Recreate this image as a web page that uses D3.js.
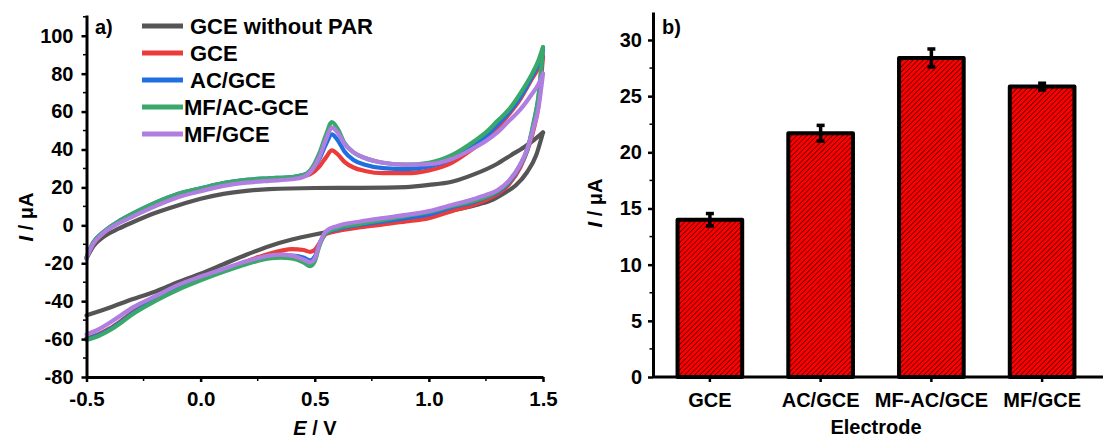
<!DOCTYPE html>
<html>
<head>
<meta charset="utf-8">
<script src="https://cdn.jsdelivr.net/npm/d3@7"></script>
<style>
  body { margin: 0; background: #fff; }
  text { font-family: "Liberation Sans", Arial, sans-serif; font-weight: bold; fill: #000; }
</style>
</head>
<body>
<div id="vis"></div>
<script>
// ---- data: cyclic voltammograms, [E (V), I (uA)], each branch in ascending E ----
const greyFwd = [[-0.5,-17.5],[-0.47,-11],[-0.43,-6.5],[-0.36,-1.8],[-0.3,1.5],[-0.2,6.5],[-0.1,10.5],[0,14],[0.1,16.6],[0.2,18.2],[0.3,19.1],[0.5,19.7],[0.7,19.8],[0.9,20.2],[1.0,21.3],[1.1,23],[1.2,27],[1.3,32.5],[1.36,37],[1.42,41.5],[1.46,45],[1.5,49]]
const greyRev = [[-0.5,-47.5],[-0.4,-43.5],[-0.3,-39],[-0.2,-35],[-0.1,-30],[0,-25.5],[0.1,-20.5],[0.2,-15.5],[0.3,-11],[0.4,-7.5],[0.5,-4.8],[0.6,-2.5],[0.7,-0.5],[0.8,1.5],[0.9,3.5],[1.0,5.5],[1.1,7.8],[1.2,10.5],[1.27,13],[1.33,17],[1.38,21],[1.43,28],[1.47,37],[1.5,49]]

const redFwd = [[-0.5,-17],[-0.47,-9.5],[-0.43,-4.5],[-0.36,1.5],[-0.3,5.5],[-0.2,11.3],[-0.1,16],[0,19],[0.1,21.8],[0.2,23.5],[0.3,24.3],[0.4,25],[0.45,26],[0.48,27],[0.52,31],[0.55,36],[0.575,39.5],[0.6,37.5],[0.63,33.5],[0.67,30.5],[0.72,28.7],[0.8,27.5],[0.9,27.5],[1.0,29],[1.1,33],[1.2,41],[1.25,45.5],[1.3,51.5],[1.35,58.5],[1.4,66.5],[1.45,77],[1.48,83],[1.5,89]]
const redRev = [[-0.5,-59.5],[-0.45,-57.5],[-0.4,-54.5],[-0.35,-50.5],[-0.3,-46],[-0.2,-39],[-0.1,-33],[0,-28.5],[0.1,-24],[0.2,-19],[0.3,-15],[0.35,-13.5],[0.4,-12.5],[0.45,-13],[0.48,-14],[0.5,-13],[0.52,-9.5],[0.55,-4.5],[0.6,-3],[0.7,-1],[0.8,0.5],[0.9,2],[1.0,3.8],[1.1,7.5],[1.2,11],[1.25,13.5],[1.3,16.5],[1.35,21.5],[1.4,30.5],[1.43,39],[1.46,51],[1.48,63],[1.5,89]]

const blueFwd = [[-0.5,-17],[-0.47,-9],[-0.43,-4],[-0.36,2],[-0.3,6],[-0.2,11.8],[-0.1,16.5],[0,19.5],[0.1,22.3],[0.2,24],[0.3,24.8],[0.4,25.5],[0.45,26.5],[0.48,28.5],[0.52,35],[0.55,43],[0.575,48],[0.6,45],[0.63,39],[0.67,34.5],[0.72,32],[0.8,30.2],[0.9,29.7],[1.0,31],[1.1,35],[1.2,42.5],[1.25,47],[1.3,53],[1.35,59.5],[1.4,67.5],[1.45,78],[1.48,85.5],[1.5,93]]
const blueRev = [[-0.5,-60],[-0.45,-58],[-0.4,-55],[-0.35,-51],[-0.3,-46.5],[-0.2,-39.5],[-0.1,-33.5],[0,-28.5],[0.1,-24],[0.2,-20],[0.3,-17],[0.35,-16],[0.4,-16],[0.45,-17],[0.48,-18.5],[0.5,-16.5],[0.52,-10],[0.55,-4],[0.6,-2],[0.7,0.3],[0.8,2],[0.9,3.8],[1.0,5.8],[1.1,9.5],[1.2,12.5],[1.25,14.8],[1.3,17.5],[1.35,22.5],[1.4,31.5],[1.43,39.5],[1.46,54],[1.48,67],[1.5,93]]

const greenFwd = [[-0.5,-17],[-0.47,-9],[-0.43,-4],[-0.36,2],[-0.3,6],[-0.2,11.8],[-0.1,16.5],[0,19.5],[0.1,22.3],[0.2,24],[0.3,24.8],[0.4,25.5],[0.45,26.5],[0.48,29],[0.52,38],[0.55,48],[0.575,54.5],[0.6,51],[0.63,43.5],[0.67,38.5],[0.72,35.5],[0.8,33],[0.9,32],[1.0,33],[1.1,37],[1.2,44.5],[1.25,49],[1.3,55],[1.35,61],[1.4,69.5],[1.45,79.5],[1.48,87],[1.5,94]]
const greenRev = [[-0.5,-60.5],[-0.45,-58.5],[-0.4,-55.5],[-0.35,-51.5],[-0.3,-47],[-0.2,-40],[-0.1,-34],[0,-29],[0.1,-24.5],[0.2,-20.5],[0.3,-17.5],[0.35,-17],[0.4,-17.5],[0.45,-19.5],[0.48,-21.5],[0.5,-19],[0.52,-11],[0.55,-4],[0.6,-1.5],[0.7,0.8],[0.8,2.8],[0.9,5],[1.0,7],[1.1,10.2],[1.2,13],[1.25,15],[1.3,18],[1.35,23],[1.4,32],[1.43,39.5],[1.46,55],[1.48,68],[1.5,94]]

const purpleFwd = [[-0.5,-17],[-0.47,-9.7],[-0.43,-4.5],[-0.36,1],[-0.3,4.5],[-0.2,10],[-0.1,14.8],[0,18],[0.1,20.8],[0.2,22.5],[0.3,23.5],[0.4,24.3],[0.45,25.5],[0.48,28],[0.52,36],[0.55,45.5],[0.575,51.5],[0.6,49],[0.63,43],[0.67,38.5],[0.72,35.5],[0.8,33],[0.9,32],[1.0,32.3],[1.1,35],[1.2,41],[1.25,44.5],[1.3,49],[1.35,55],[1.4,61],[1.45,69],[1.48,74.5],[1.5,80]]
const purpleRev = [[-0.5,-57.5],[-0.45,-55],[-0.4,-51.5],[-0.35,-47.5],[-0.3,-43.5],[-0.2,-37.5],[-0.1,-31.5],[0,-27],[0.1,-23],[0.2,-19],[0.3,-16],[0.35,-15.5],[0.4,-16],[0.45,-18],[0.48,-19.5],[0.5,-17.5],[0.52,-10],[0.55,-3],[0.6,-0.3],[0.7,2],[0.8,3.8],[0.9,5.5],[1.0,7.5],[1.1,10.7],[1.2,14],[1.25,16],[1.3,18.5],[1.35,23.5],[1.4,32],[1.43,40],[1.46,52],[1.48,62],[1.5,80]]

const cvNames = ['GCE without PAR', 'GCE', 'AC/GCE', 'MF/AC-GCE', 'MF/GCE']
const cvColors = ['#555555', '#ec3b3b', '#1f6fe0', '#3ba86b', '#b07ee0']
const cvData = [[greyFwd, greyRev], [redFwd, redRev], [blueFwd, blueRev], [greenFwd, greenRev], [purpleFwd, purpleRev]]

const xTicksA = [-0.5, 0.0, 0.5, 1.0, 1.5]
const yTicksA = [-80, -60, -40, -20, 0, 20, 40, 60, 80, 100]

// ---- data: peak current bars ----
const electrodes = ['GCE', 'AC/GCE', 'MF-AC/GCE', 'MF/GCE']
const peakCurrent = [14.0, 21.7, 28.4, 25.85]
const peakError = [0.55, 0.7, 0.8, 0.3]
const yTicksB = [0, 5, 10, 15, 20, 25, 30]

const svg = d3.select('#vis').append('svg')
    .attr('width', 1103)
    .attr('height', 439)

// plain hyphen instead of d3's unicode minus, like the original
const hy = f => d => f(d).replace('\u2212', '-')

function styleAxis(g, fontSize) {
    g.select('.domain').attr('stroke', '#000').attr('stroke-width', 3)
    g.selectAll('.tick line').attr('stroke', '#000').attr('stroke-width', 2.5)
    g.selectAll('.tick text')
        .style('font-family', '"Liberation Sans", Arial, sans-serif')
        .style('font-weight', 'bold')
        .style('font-size', fontSize + 'px')
        .attr('fill', '#000')
}

// ================= panel a) =================
const xA = d3.scaleLinear().domain([-0.5, 1.5]).range([86.5, 543])
const yA = d3.scaleLinear().domain([-80, 111]).range([377, 14.9])

const gA = svg.append('g')
// minor ticks
gA.selectAll('.minx').data(d3.range(-0.25, 1.5, 0.5)).join('line')
    .attr('x1', d => xA(d)).attr('x2', d => xA(d))
    .attr('y1', 377).attr('y2', 381)
    .attr('stroke', '#000').attr('stroke-width', 1.5)
gA.selectAll('.miny').data(d3.range(-70, 111, 20)).join('line')
    .attr('x1', 86.5).attr('x2', 83)
    .attr('y1', d => yA(d)).attr('y2', d => yA(d))
    .attr('stroke', '#000').attr('stroke-width', 1.5)

const line = d3.line()
    .x(d => xA(d[0]))
    .y(d => yA(d[1]))
    .curve(d3.curveMonotoneX)

cvData.forEach((branches, i) => {
    branches.forEach(b => {
        gA.append('path')
            .attr('d', line(b))
            .attr('fill', 'none')
            .attr('stroke', cvColors[i])
            .attr('stroke-width', 4.2)
            .attr('stroke-linejoin', 'round')
            .attr('stroke-linecap', 'round')
    })
})

gA.append('g')
    .attr('transform', 'translate(0,377)')
    .call(d3.axisBottom(xA).tickValues(xTicksA).tickFormat(hy(d3.format('.1f'))).tickSize(5).tickSizeOuter(0).tickPadding(9))
    .call(g => styleAxis(g, 20.5))

gA.append('g')
    .attr('transform', 'translate(86.5,0)')
    .call(d3.axisLeft(yA).tickValues(yTicksA).tickFormat(hy(d3.format('d'))).tickSize(5).tickSizeOuter(0).tickPadding(8))
    .call(g => styleAxis(g, 20))

gA.append('text').attr('x', 95).attr('y', 34).style('font-size', '20px').text('a)')

// axis titles
const tA = gA.append('text').attr('x', 315).attr('y', 435).attr('text-anchor', 'middle').style('font-size', '20px')
tA.append('tspan').style('font-style', 'italic').text('E')
tA.append('tspan').text(' / V')
const yLabA = gA.append('text').attr('transform', 'translate(33,217) rotate(-90)').attr('text-anchor', 'middle').style('font-size', '20px')
yLabA.append('tspan').style('font-style', 'italic').text('I')
yLabA.append('tspan').text(' / μA')

// legend
const legRows = [26, 53, 80, 107, 134]
const legTextX = [190, 190, 190, 184, 184]
cvNames.forEach((n, i) => {
    gA.append('line')
        .attr('x1', 142).attr('x2', 183)
        .attr('y1', legRows[i]).attr('y2', legRows[i])
        .attr('stroke', cvColors[i]).attr('stroke-width', 5)
    gA.append('text')
        .attr('x', legTextX[i]).attr('y', legRows[i] + 7.5)
        .style('font-size', '22px')
        .text(n)
})

// ================= panel b) =================
const xB = d3.scaleBand().domain(electrodes).range([654.5, 1097.5]).paddingInner(0.38).paddingOuter(0.19)
const yB = d3.scaleLinear().domain([0, 32.5]).range([377, 11.9])

const defs = svg.append('defs')
const pat = defs.append('pattern')
    .attr('id', 'hatch')
    .attr('patternUnits', 'userSpaceOnUse')
    .attr('width', 3.6).attr('height', 3.6)
    .attr('patternTransform', 'rotate(45)')
pat.append('rect').attr('width', 3.6).attr('height', 3.6).attr('fill', '#ff0000')
pat.append('line').attr('x1', 0).attr('x2', 0).attr('y1', 0).attr('y2', 3.6)
    .attr('stroke', '#000').attr('stroke-width', 1.1)

const gB = svg.append('g')

gB.selectAll('.minyb').data(d3.range(2.5, 32.5, 5)).join('line')
    .attr('x1', 653).attr('x2', 649.5)
    .attr('y1', d => yB(d)).attr('y2', d => yB(d))
    .attr('stroke', '#000').attr('stroke-width', 1.5)

gB.selectAll('.bar').data(electrodes).join('rect')
    .attr('x', d => xB(d) + 2)
    .attr('width', xB.bandwidth() - 4)
    .attr('y', (d, i) => yB(peakCurrent[i]))
    .attr('height', (d, i) => yB(0) - yB(peakCurrent[i]))
    .attr('fill', 'url(#hatch)')
    .attr('stroke', '#000')
    .attr('stroke-width', 4)
    .attr('stroke-linejoin', 'round')

// error bars
electrodes.forEach((d, i) => {
    const cx = xB(d) + xB.bandwidth() / 2
    const lo = yB(peakCurrent[i] - peakError[i]), hi = yB(peakCurrent[i] + peakError[i])
    gB.append('line').attr('x1', cx).attr('x2', cx).attr('y1', lo).attr('y2', hi)
        .attr('stroke', '#000').attr('stroke-width', 3.5)
    ;[lo, hi].forEach(yv => {
        gB.append('line').attr('x1', cx - 4).attr('x2', cx + 4).attr('y1', yv).attr('y2', yv)
            .attr('stroke', '#000').attr('stroke-width', 3.5)
    })
})

gB.append('g')
    .attr('transform', 'translate(0,377)')
    .call(d3.axisBottom(xB).tickSize(5).tickSizeOuter(0).tickPadding(11))
    .call(g => styleAxis(g, 20))
    .call(g => g.select('.domain').attr('d', 'M653,0H1103'))

gB.append('g')
    .attr('transform', 'translate(653,0)')
    .call(d3.axisLeft(yB).tickValues(yTicksB).tickSize(5).tickSizeOuter(0).tickPadding(6))
    .call(g => styleAxis(g, 20))

gB.append('text').attr('x', 662).attr('y', 34).style('font-size', '20px').text('b)')
gB.append('text').attr('x', 876).attr('y', 434).attr('text-anchor', 'middle').style('font-size', '20px').text('Electrode')
const yLabB = gB.append('text').attr('transform', 'translate(602,203) rotate(-90)').attr('text-anchor', 'middle').style('font-size', '20px')
yLabB.append('tspan').style('font-style', 'italic').text('I')
yLabB.append('tspan').text(' / μA')
</script>
</body>
</html>
